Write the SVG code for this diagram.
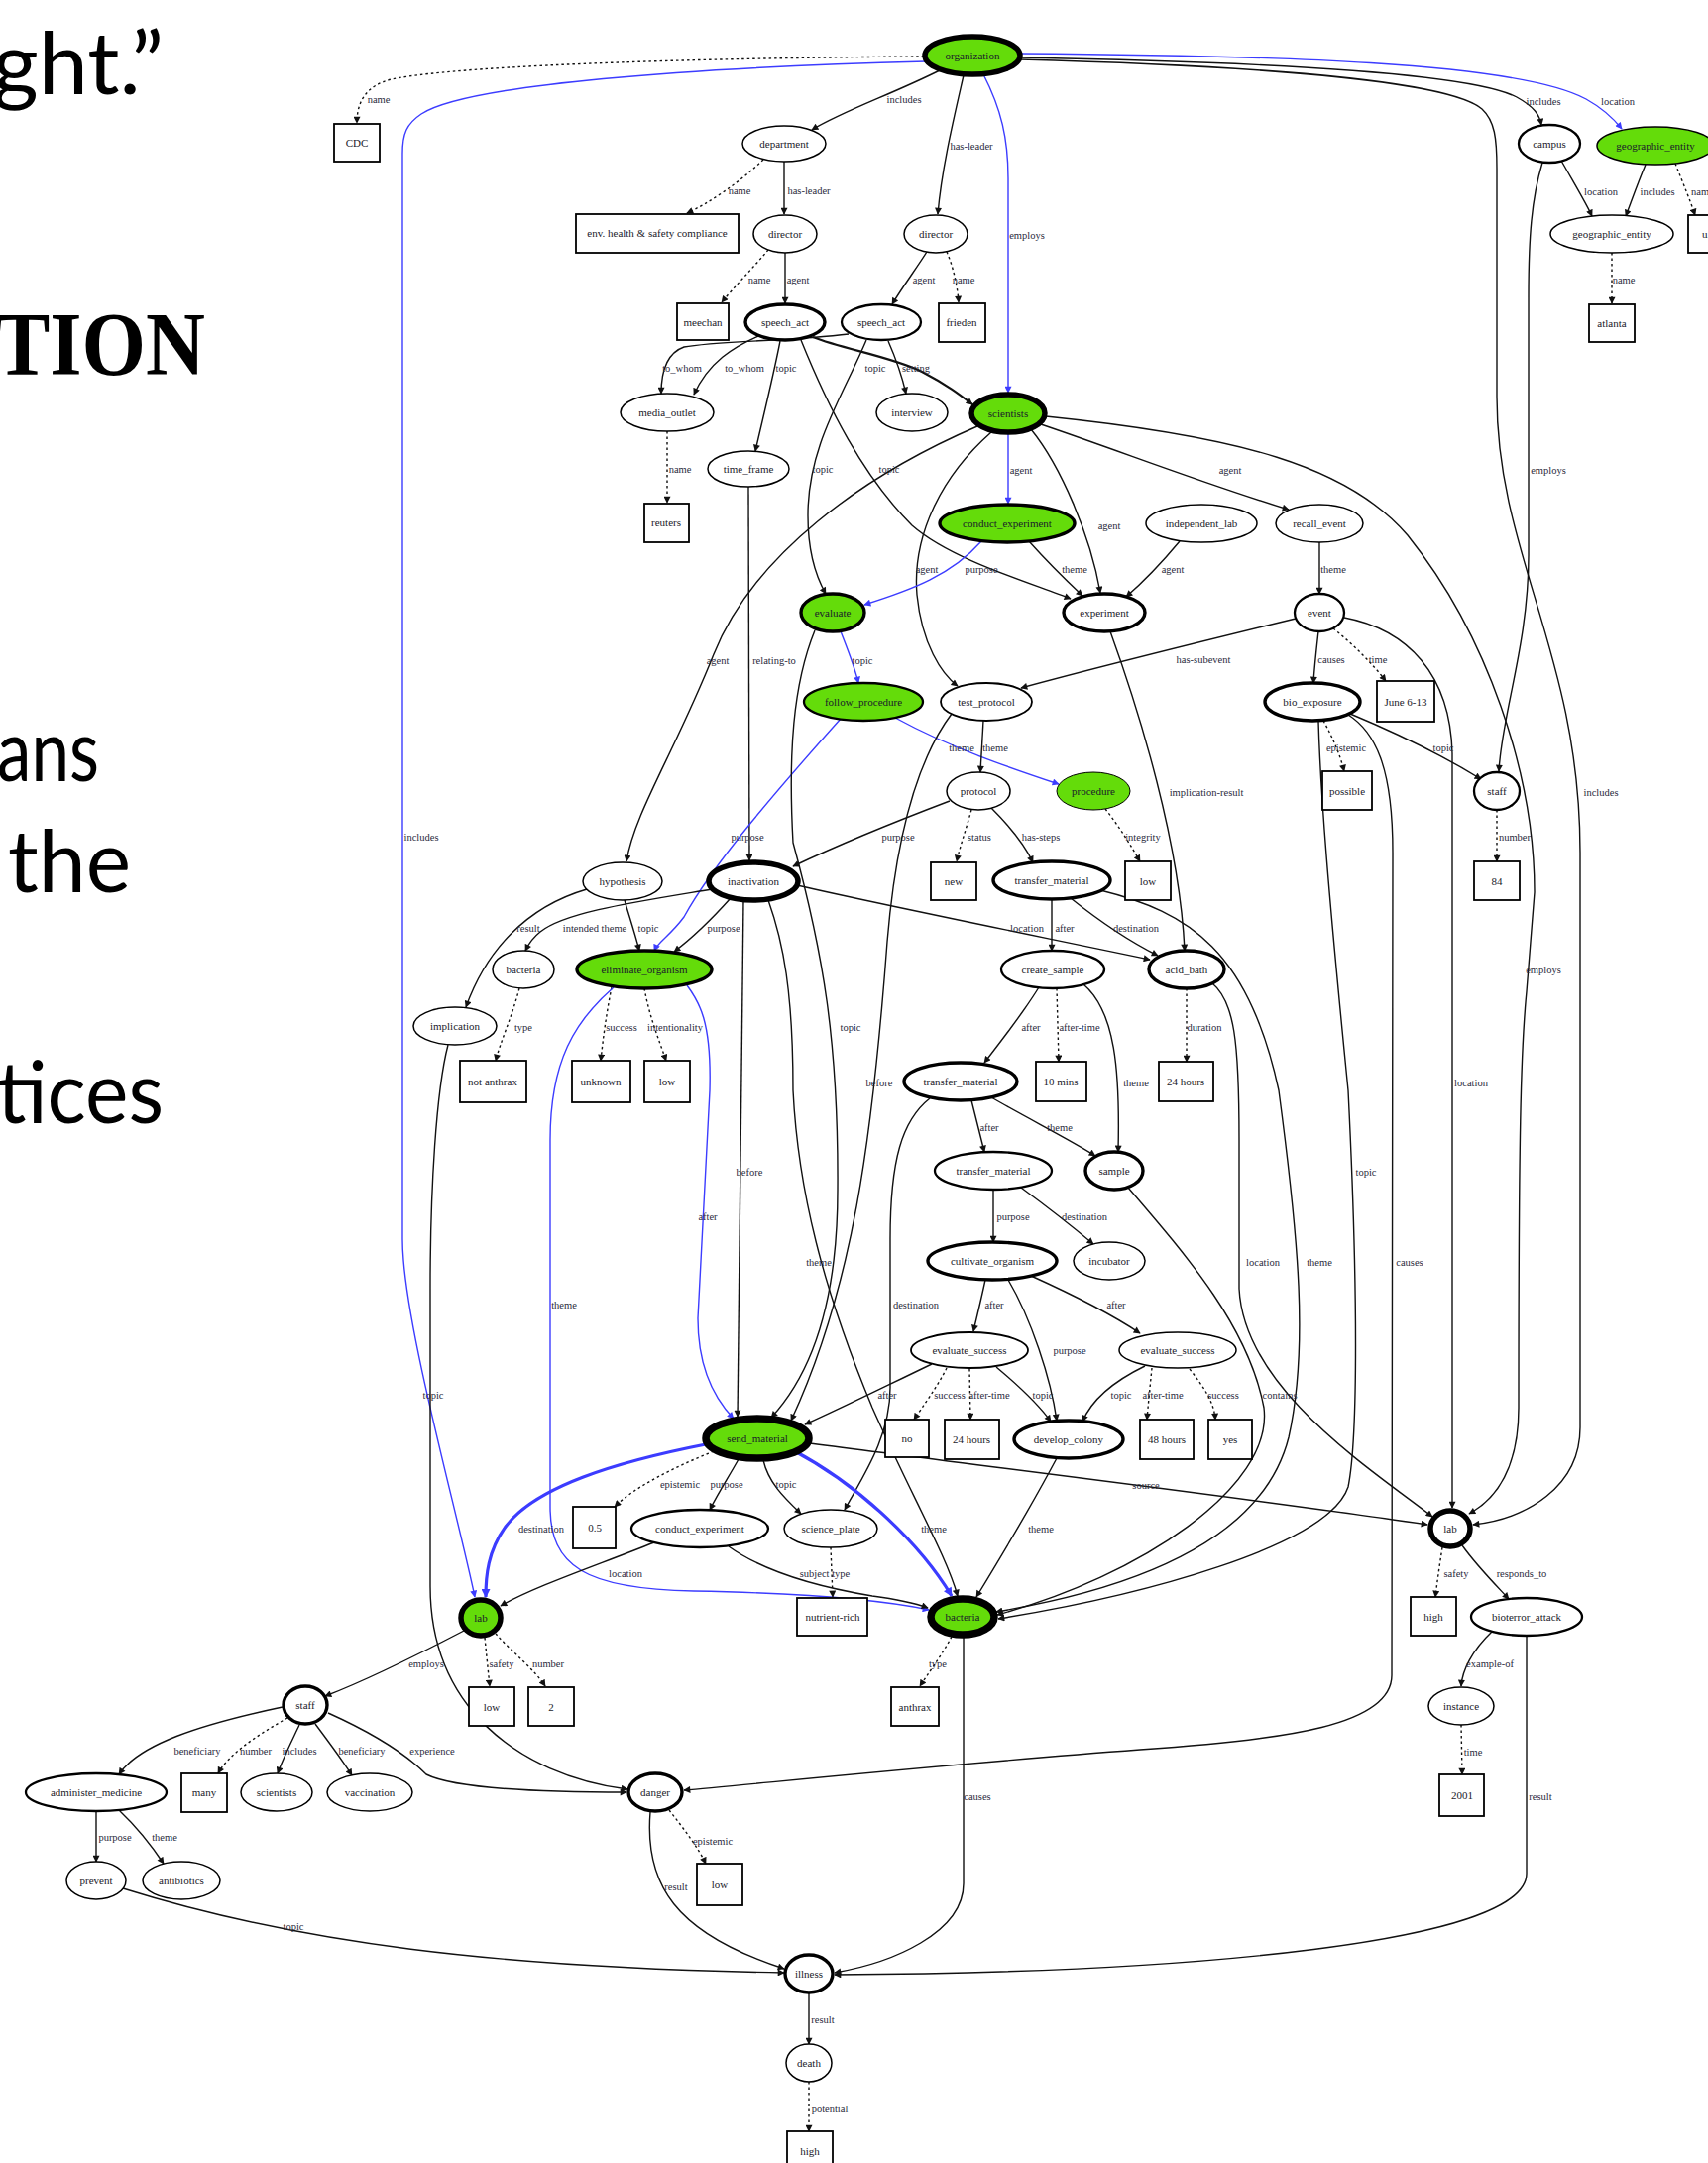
<svg xmlns="http://www.w3.org/2000/svg" width="1723" height="2182" viewBox="0 0 1723 2182">
<style>
.e{fill:none;stroke:#111;stroke-width:1.4}
.d{stroke-dasharray:2.5 3}
.bl{stroke:#3c3cff}
.bt{stroke-width:3.2}
.ea{marker-end:url(#ak)}
.eb{marker-end:url(#ab)}
.eB{marker-end:url(#abB)}
.lb{font-family:"Liberation Serif",serif;font-size:10.5px;fill:#2a2a3c;text-anchor:middle}
.nt{font-family:"Liberation Serif",serif;font-size:11px;fill:#1a1a2a;text-anchor:middle}
.nd{fill:#fff;stroke:#000;stroke-width:1.5}
.w2{stroke-width:2.3}
.w3{stroke-width:3.4}
.w5{stroke-width:5.5}
.w7{stroke-width:7.5}
.gr{fill:#64dc0a}
.bx{fill:#fff;stroke:#000;stroke-width:1.8}
.big{font-family:"Lato","Open Sans",sans-serif;font-size:88px;fill:#000}
.ttl{font-family:"Liberation Serif",serif;font-size:90px;font-weight:bold;fill:#000}
</style>
<defs>
<marker id="ak" viewBox="0 0 10 10" refX="9" refY="5" markerWidth="8" markerHeight="7" markerUnits="userSpaceOnUse" orient="auto"><path d="M0,0 L10,5 L0,10 z" fill="#111"/></marker>
<marker id="ab" viewBox="0 0 10 10" refX="9" refY="5" markerWidth="8" markerHeight="7" markerUnits="userSpaceOnUse" orient="auto"><path d="M0,0 L10,5 L0,10 z" fill="#3c3cff"/></marker>
<marker id="abB" viewBox="0 0 10 10" refX="9" refY="5" markerWidth="11" markerHeight="9" markerUnits="userSpaceOnUse" orient="auto"><path d="M0,0 L10,5 L0,10 z" fill="#3c3cff"/></marker>
</defs>
<rect width="1723" height="2182" fill="#fff"/>

<g id="slide-text">
<text class="big" x="-8" y="95" textLength="173" lengthAdjust="spacingAndGlyphs">ght.”</text>
<text class="ttl" x="-5" y="378" textLength="212" lengthAdjust="spacingAndGlyphs">TION</text>
<text class="big" x="-3" y="788" textLength="103" lengthAdjust="spacingAndGlyphs">ans</text>
<text class="big" x="8" y="900" textLength="124" lengthAdjust="spacingAndGlyphs">the</text>
<text class="big" x="-3" y="1133" textLength="168" lengthAdjust="spacingAndGlyphs">tices</text>
</g>

<g id="connectors">
<g><path class="e d ea" d="M932,57 C760,58 470,64 395,80 C370,86 360,102 360,124"/><text class="lb" x="382" y="104">name</text></g>
<g><path class="e bl eb" d="M934,62 C700,68 470,85 425,115 C410,125 406,135 406,155 L406,1250 C406,1330 460,1520 479,1611"/><text class="lb" x="425" y="848">includes</text></g>
<g><path class="e ea" d="M948,71 C900,95 850,112 819,131"/><text class="lb" x="912" y="104">includes</text></g>
<g><path class="e ea" d="M972,76 C962,120 950,170 946,216"/><text class="lb" x="980" y="151">has-leader</text></g>
<g><path class="e bl eb" d="M992,75 C1010,110 1017,140 1017,180 L1017,396"/><text class="lb" x="1036" y="241">employs</text></g>
<g><path class="e ea" d="M1029,58 C1250,62 1480,72 1530,98 C1548,108 1553,116 1555,126"/><text class="lb" x="1557" y="106">includes</text></g>
<g><path class="e bl eb" d="M1029,54 C1280,56 1530,62 1600,100 C1618,110 1628,120 1636,130"/><text class="lb" x="1632" y="106">location</text></g>
<g><path class="e ea" d="M1029,60 C1250,66 1460,80 1495,110 C1508,122 1510,140 1510,170 L1510,400 C1510,560 1594,660 1594,860 L1594,1440 C1594,1500 1540,1532 1486,1538"/><text class="lb" x="1615" y="803">includes</text></g>
<g><path class="e d ea" d="M770,161 C745,185 715,205 693,215"/><text class="lb" x="746" y="196">name</text></g>
<g><path class="e ea" d="M791,163 L791,216"/><text class="lb" x="816" y="196">has-leader</text></g>
<g><path class="e d ea" d="M775,252 C760,270 740,290 728,305"/><text class="lb" x="766" y="286">name</text></g>
<g><path class="e ea" d="M792,255 L792,306"/><text class="lb" x="805" y="286">agent</text></g>
<g><path class="e ea" d="M935,254 C925,270 910,290 900,307"/><text class="lb" x="932" y="286">agent</text></g>
<g><path class="e d ea" d="M955,254 C962,270 966,290 967,305"/><text class="lb" x="972" y="286">name</text></g>
<g><path class="e ea" d="M856,337 C800,344 720,344 690,350 C673,356 667,375 667,397"/><text class="lb" x="688" y="375">to_whom</text></g>
<g><path class="e ea" d="M765,339 C740,350 715,365 700,398"/><text class="lb" x="751" y="375">to_whom</text></g>
<g><path class="e ea" d="M787,344 C780,380 770,420 762,455"/><text class="lb" x="793" y="375">topic</text></g>
<g><path class="e ea" style="stroke-width:2.2" d="M820,340 C850,352 900,360 930,375 C955,388 968,398 981,408"/><text class="lb" x="883" y="375">topic</text></g>
<g><path class="e ea" d="M808,343 C835,410 870,480 920,530 C960,565 1040,588 1080,604"/><text class="lb" x="897" y="477">topic</text></g>
<g><path class="e ea" d="M874,343 C850,400 815,450 815,520 C815,560 825,585 833,599"/><text class="lb" x="830" y="477">topic</text></g>
<g><path class="e ea" d="M896,344 C903,360 910,380 914,397"/><text class="lb" x="924" y="375">setting</text></g>
<g><path class="e d ea" d="M673,435 L673,507"/><text class="lb" x="686" y="477">name</text></g>
<g><path class="e ea" d="M1575,162 C1588,185 1600,205 1606,218"/><text class="lb" x="1615" y="197">location</text></g>
<g><path class="e ea" d="M1660,166 C1652,185 1645,205 1640,218"/><text class="lb" x="1672" y="197">includes</text></g>
<g><path class="e d ea" d="M1690,165 C1698,185 1706,205 1710,217"/><text class="lb" x="1706" y="197" style="text-anchor:start">name</text></g>
<g><path class="e d ea" d="M1626,255 L1626,306"/><text class="lb" x="1638" y="286">name</text></g>
<g><path class="e ea" d="M1556,164 C1545,200 1542,240 1542,300 L1542,560 C1542,650 1515,720 1512,778"/><text class="lb" x="1562" y="478">employs</text></g>
<g><path class="e bl eb" d="M1017,437 L1017,508"/><text class="lb" x="1030" y="478">agent</text></g>
<g><path class="e ea" d="M1040,433 C1070,470 1100,540 1110,598"/><text class="lb" x="1119" y="534">agent</text></g>
<g><path class="e ea" d="M1050,428 C1130,455 1220,490 1300,514"/><text class="lb" x="1241" y="478">agent</text></g>
<g><path class="e ea" d="M1055,420 C1250,440 1360,470 1420,540 C1500,640 1548,780 1548,900 L1540,1000 C1534,1060 1532,1150 1532,1420 C1532,1480 1510,1512 1482,1527"/><text class="lb" x="1557" y="982">employs</text></g>
<g><path class="e ea" d="M986,430 C870,480 760,560 720,660 C680,760 640,820 632,869"/><text class="lb" x="724" y="670">agent</text></g>
<g><path class="e ea" d="M1000,436 C950,480 920,540 925,600 C930,650 950,680 966,692"/><text class="lb" x="935" y="578">agent</text></g>
<g><path class="e bl eb" d="M990,546 C960,580 920,595 872,610"/><text class="lb" x="990" y="578">purpose</text></g>
<g><path class="e ea" d="M1038,546 C1055,565 1075,585 1092,601"/><text class="lb" x="1084" y="578">theme</text></g>
<g><path class="e ea" d="M1190,546 C1170,570 1150,590 1136,602"/><text class="lb" x="1183" y="578">agent</text></g>
<g><path class="e ea" d="M1331,547 L1331,599"/><text class="lb" x="1345" y="578">theme</text></g>
<g><path class="e ea" d="M1307,624 C1200,650 1100,675 1030,694"/><text class="lb" x="1214" y="669">has-subevent</text></g>
<g><path class="e ea" d="M1330,637 C1328,655 1326,672 1325,689"/><text class="lb" x="1343" y="669">causes</text></g>
<g><path class="e d ea" d="M1345,634 C1365,650 1385,670 1398,687"/><text class="lb" x="1390" y="669">time</text></g>
<g><path class="e ea" d="M1356,623 C1420,635 1463,680 1465,760 L1465,1521"/><text class="lb" x="1484" y="1096">location</text></g>
<g><path class="e bl eb" d="M848,637 C855,655 862,672 866,689"/><text class="lb" x="870" y="670">topic</text></g>
<g><path class="e ea" d="M755,491 L756,868"/><text class="lb" x="781" y="670">relating-to</text></g>
<g><path class="e bl eb" d="M903,724 C960,755 1020,775 1068,791"/><text class="lb" x="1004" y="758">theme</text></g>
<g><path class="e ea" d="M992,727 L989,779"/><text class="lb" x="970" y="758">theme</text></g>
<g><path class="e bl eb" d="M848,725 C790,790 720,870 690,925 C675,945 664,950 660,959"/><text class="lb" x="754" y="848">purpose</text></g>
<g><path class="e d ea" d="M1335,727 C1345,745 1352,762 1356,778"/><text class="lb" x="1358" y="758">epistemic</text></g>
<g><path class="e ea" d="M1362,720 C1410,740 1460,765 1494,786"/><text class="lb" x="1456" y="758">topic</text></g>
<g><path class="e ea" d="M1120,637 C1150,720 1190,850 1195,959"/><text class="lb" x="1217" y="803">implication-result</text></g>
<g><path class="e d ea" d="M1510,817 L1510,869"/><text class="lb" x="1528" y="848">number</text></g>
<g><path class="e d ea" d="M980,817 C975,835 968,855 965,869"/><text class="lb" x="988" y="848">status</text></g>
<g><path class="e ea" d="M1000,815 C1020,835 1035,855 1042,870"/><text class="lb" x="1050" y="848">has-steps</text></g>
<g><path class="e d ea" d="M1115,816 C1130,835 1142,855 1150,869"/><text class="lb" x="1153" y="848">integrity</text></g>
<g><path class="e ea" d="M958,808 C900,830 840,855 800,874"/><text class="lb" x="906" y="848">purpose</text></g>
<g><path class="e ea" d="M592,897 C530,915 490,960 470,1016"/><text class="lb" x="533" y="940">result</text></g>
<g><path class="e ea" d="M718,897 C640,910 570,920 545,940 C535,948 532,955 530,959"/><text class="lb" x="600" y="940">intended theme</text></g>
<g><path class="e ea" d="M630,908 C635,925 640,940 645,959"/><text class="lb" x="654" y="940">topic</text></g>
<g><path class="e ea" d="M737,906 C720,925 700,945 680,960"/><text class="lb" x="730" y="940">purpose</text></g>
<g><path class="e ea" d="M804,893 C900,915 1050,945 1160,968"/><text class="lb" x="1036" y="940">location</text></g>
<g><path class="e ea" d="M1061,907 L1061,959"/><text class="lb" x="1074" y="940">after</text></g>
<g><path class="e ea" d="M1080,906 C1110,930 1140,950 1168,964"/><text class="lb" x="1146" y="940">destination</text></g>
<g><path class="e ea" d="M1110,898 C1200,920 1260,960 1290,1100 C1310,1250 1320,1360 1300,1450 C1270,1570 1100,1610 1005,1626"/><text class="lb" x="1331" y="1277">theme</text></g>
<g><path class="e d ea" d="M524,997 C515,1030 505,1050 500,1070"/><text class="lb" x="528" y="1040">type</text></g>
<g><path class="e d ea" d="M617,996 C612,1020 608,1050 606,1070"/><text class="lb" x="627" y="1040">success</text></g>
<g><path class="e d ea" d="M650,997 C655,1025 665,1050 672,1070"/><text class="lb" x="681" y="1040">intentionality</text></g>
<g><path class="e bl eb" d="M693,994 C705,1010 718,1030 716,1100 L704,1330 C704,1380 720,1410 740,1431"/><text class="lb" x="714" y="1231">after</text></g>
<g><path class="e bl eb" d="M619,996 C580,1030 555,1070 555,1150 L555,1520 C555,1580 590,1603 700,1605 C800,1607 880,1612 937,1624"/><text class="lb" x="569" y="1320">theme</text></g>
<g><path class="e ea" d="M1048,996 C1030,1025 1010,1050 993,1072"/><text class="lb" x="1040" y="1040">after</text></g>
<g><path class="e d ea" d="M1066,997 L1068,1071"/><text class="lb" x="1089" y="1040">after-time</text></g>
<g><path class="e ea" d="M1093,993 C1125,1020 1130,1080 1128,1162"/><text class="lb" x="1146" y="1096">theme</text></g>
<g><path class="e d ea" d="M1197,997 L1197,1071"/><text class="lb" x="1215" y="1040">duration</text></g>
<g><path class="e ea" d="M1223,992 C1245,1010 1250,1050 1250,1150 L1250,1300 C1255,1400 1380,1480 1445,1530"/><text class="lb" x="1274" y="1277">location</text></g>
<g><path class="e ea" d="M750,909 C748,1000 745,1200 744,1429"/><text class="lb" x="756" y="1186">before</text></g>
<g><path class="e ea" d="M980,1110 C985,1130 990,1150 993,1162"/><text class="lb" x="998" y="1141">after</text></g>
<g><path class="e ea" d="M1000,1107 C1040,1130 1080,1150 1105,1166"/><text class="lb" x="1069" y="1141">theme</text></g>
<g><path class="e ea" d="M938,1108 C910,1130 898,1170 898,1250 L898,1400 C898,1450 870,1490 852,1523"/><text class="lb" x="924" y="1320">destination</text></g>
<g><path class="e ea" d="M960,720 C930,760 905,830 895,950 C880,1150 860,1300 798,1433"/><text class="lb" x="887" y="1096">before</text></g>
<g><path class="e ea" d="M822,636 C800,690 795,760 800,850 C830,960 846,1050 845,1200 C845,1320 815,1390 778,1430"/><text class="lb" x="858" y="1040">topic</text></g>
<g><path class="e ea" d="M1002,1200 L1002,1253"/><text class="lb" x="1022" y="1231">purpose</text></g>
<g><path class="e ea" d="M1030,1198 C1060,1220 1085,1240 1103,1255"/><text class="lb" x="1094" y="1231">destination</text></g>
<g><path class="e ea" d="M1138,1198 C1200,1270 1260,1340 1275,1420 C1285,1500 1150,1590 1006,1629"/><text class="lb" x="1291" y="1411">contains</text></g>
<g><path class="e ea" d="M775,908 C790,950 800,1000 800,1100 C805,1200 830,1300 880,1420 C920,1510 955,1570 966,1610"/><text class="lb" x="826" y="1277">theme</text></g>
<g><path class="e ea" d="M994,1291 C990,1310 985,1330 982,1343"/><text class="lb" x="1003" y="1320">after</text></g>
<g><path class="e ea" d="M1040,1287 C1080,1305 1120,1325 1150,1345"/><text class="lb" x="1126" y="1320">after</text></g>
<g><path class="e ea" d="M1017,1291 C1040,1330 1060,1390 1066,1433"/><text class="lb" x="1079" y="1366">purpose</text></g>
<g><path class="e ea" d="M940,1376 C890,1400 850,1420 812,1437"/><text class="lb" x="895" y="1411">after</text></g>
<g><path class="e d ea" d="M955,1380 C945,1400 930,1420 922,1432"/><text class="lb" x="958" y="1411">success</text></g>
<g><path class="e d ea" d="M978,1381 L979,1432"/><text class="lb" x="998" y="1411">after-time</text></g>
<g><path class="e ea" d="M1005,1379 C1030,1400 1050,1420 1060,1434"/><text class="lb" x="1052" y="1411">topic</text></g>
<g><path class="e ea" d="M1155,1378 C1120,1395 1100,1415 1092,1434"/><text class="lb" x="1131" y="1411">topic</text></g>
<g><path class="e d ea" d="M1162,1380 C1160,1400 1158,1420 1157,1432"/><text class="lb" x="1173" y="1411">after-time</text></g>
<g><path class="e d ea" d="M1200,1381 C1215,1400 1225,1415 1226,1432"/><text class="lb" x="1234" y="1411">success</text></g>
<g><path class="e ea" d="M1066,1471 C1040,1520 1010,1570 985,1611"/><text class="lb" x="1050" y="1546">theme</text></g>
<g><path class="e ea" d="M1330,727 C1332,800 1340,900 1360,1100 C1370,1300 1370,1450 1360,1500 C1340,1560 1150,1610 1007,1633"/><text class="lb" x="1378" y="1186">topic</text></g>
<g><path class="e ea" d="M1360,721 C1390,740 1405,780 1405,860 L1404,1690 C1404,1740 1300,1755 1150,1765 C950,1780 760,1800 690,1806"/><text class="lb" x="1422" y="1277">causes</text></g>
<g><path class="e ea" d="M817,1456 C1000,1480 1250,1510 1440,1538"/><text class="lb" x="1156" y="1502">source</text></g>
<g><path class="e d ea" d="M720,1464 C680,1480 640,1500 620,1520"/><text class="lb" x="686" y="1501">epistemic</text></g>
<g><path class="e ea" d="M745,1472 C735,1490 725,1505 716,1523"/><text class="lb" x="733" y="1501">purpose</text></g>
<g><path class="e ea" d="M770,1473 C775,1495 790,1510 808,1527"/><text class="lb" x="793" y="1501">topic</text></g>
<g><path class="e bl bt eB" d="M712,1457 C620,1475 540,1500 510,1540 C492,1565 490,1590 490,1611"/><text class="lb" x="546" y="1546">destination</text></g>
<g><path class="e bl bt eB" d="M800,1463 C870,1500 930,1560 960,1610"/><text class="lb" x="942" y="1546">theme</text></g>
<g><path class="e ea" d="M660,1556 C600,1580 540,1600 505,1620"/><text class="lb" x="631" y="1591">location</text></g>
<g><path class="e ea" d="M735,1560 C770,1585 820,1600 880,1610 C910,1614 925,1618 936,1622"/></g>
<g><path class="e d ea" d="M838,1561 L840,1611"/><text class="lb" x="832" y="1591">subject type</text></g>
<g><path class="e ea" d="M468,1645 C420,1670 370,1695 328,1711"/><text class="lb" x="430" y="1682">employs</text></g>
<g><path class="e d ea" d="M489,1652 L494,1701"/><text class="lb" x="506" y="1682">safety</text></g>
<g><path class="e d ea" d="M500,1648 C515,1665 540,1685 550,1701"/><text class="lb" x="553" y="1682">number</text></g>
<g><path class="e d ea" d="M960,1651 C950,1670 935,1690 928,1701"/><text class="lb" x="946" y="1682">type</text></g>
<g><path class="e ea" d="M972,1651 L972,1900 C972,1950 900,1980 842,1990"/><text class="lb" x="986" y="1816">causes</text></g>
<g><path class="e d ea" d="M1455,1561 C1452,1580 1450,1595 1448,1611"/><text class="lb" x="1469" y="1591">safety</text></g>
<g><path class="e ea" d="M1475,1559 C1490,1580 1510,1600 1522,1613"/><text class="lb" x="1535" y="1591">responds_to</text></g>
<g><path class="e ea" d="M1505,1646 C1485,1665 1475,1685 1474,1701"/><text class="lb" x="1503" y="1682">example-of</text></g>
<g><path class="e ea" d="M1540,1650 L1540,1890 C1540,1960 1200,1990 842,1992"/><text class="lb" x="1554" y="1816">result</text></g>
<g><path class="e d ea" d="M1474,1740 L1475,1790"/><text class="lb" x="1486" y="1771">time</text></g>
<g><path class="e ea" d="M452,1054 C440,1100 434,1200 434,1300 L434,1600 C434,1720 520,1790 633,1805"/><text class="lb" x="437" y="1411">topic</text></g>
<g><path class="e ea" d="M285,1722 C200,1740 140,1760 120,1790"/><text class="lb" x="199" y="1770">beneficiary</text></g>
<g><path class="e d ea" d="M290,1733 C260,1750 230,1770 220,1789"/><text class="lb" x="258" y="1770">number</text></g>
<g><path class="e ea" d="M302,1740 C295,1755 285,1775 280,1789"/><text class="lb" x="302" y="1770">includes</text></g>
<g><path class="e ea" d="M318,1739 C330,1755 345,1775 355,1791"/><text class="lb" x="365" y="1770">beneficiary</text></g>
<g><path class="e ea" d="M331,1728 C380,1750 410,1770 430,1790 C460,1805 560,1808 632,1808"/><text class="lb" x="436" y="1770">experience</text></g>
<g><path class="e ea" d="M97,1827 L97,1878"/><text class="lb" x="116" y="1857">purpose</text></g>
<g><path class="e ea" d="M120,1826 C140,1845 155,1865 165,1880"/><text class="lb" x="166" y="1857">theme</text></g>
<g><path class="e ea" d="M124,1905 C300,1960 500,1985 791,1990"/><text class="lb" x="296" y="1947">topic</text></g>
<g><path class="e d ea" d="M675,1826 C690,1845 705,1865 712,1880"/><text class="lb" x="719" y="1861">epistemic</text></g>
<g><path class="e ea" d="M656,1828 C650,1900 680,1950 791,1986"/><text class="lb" x="682" y="1907">result</text></g>
<g><path class="e ea" d="M816,2011 L816,2062"/><text class="lb" x="830" y="2041">result</text></g>
<g><path class="e d ea" d="M816,2100 L816,2150"/><text class="lb" x="837" y="2131">potential</text></g>
</g>

<g id="nodes">
<g id="n-organization"><ellipse class="nd gr w5" cx="981" cy="56" rx="48" ry="19"/><text class="nt" x="981" y="60">organization</text></g>
<g id="n-cdc"><rect class="bx" x="337" y="125" width="46" height="38"/><text class="nt" x="360" y="148">CDC</text></g>
<g id="n-department"><ellipse class="nd" cx="791" cy="145" rx="42" ry="18"/><text class="nt" x="791" y="149">department</text></g>
<g id="n-env"><rect class="bx" x="581" y="216" width="164" height="39"/><text class="nt" x="663" y="239">env. health &amp; safety compliance</text></g>
<g id="n-director1"><ellipse class="nd" cx="792" cy="236" rx="32" ry="19"/><text class="nt" x="792" y="240">director</text></g>
<g id="n-director2"><ellipse class="nd" cx="944" cy="236" rx="32" ry="19"/><text class="nt" x="944" y="240">director</text></g>
<g id="n-meechan"><rect class="bx" x="683" y="306" width="52" height="37"/><text class="nt" x="709" y="329">meechan</text></g>
<g id="n-speech1"><ellipse class="nd w3" cx="792" cy="325" rx="40" ry="18"/><text class="nt" x="792" y="329">speech_act</text></g>
<g id="n-speech2"><ellipse class="nd w2" cx="889" cy="325" rx="40" ry="18"/><text class="nt" x="889" y="329">speech_act</text></g>
<g id="n-frieden"><rect class="bx" x="947" y="306" width="47" height="39"/><text class="nt" x="970" y="329">frieden</text></g>
<g id="n-media"><ellipse class="nd" cx="673" cy="416" rx="47" ry="19"/><text class="nt" x="673" y="420">media_outlet</text></g>
<g id="n-interview"><ellipse class="nd" cx="920" cy="416" rx="36" ry="19"/><text class="nt" x="920" y="420">interview</text></g>
<g id="n-scientists"><ellipse class="nd gr w5" cx="1017" cy="417" rx="37" ry="19"/><text class="nt" x="1017" y="421">scientists</text></g>
<g id="n-campus"><ellipse class="nd w2" cx="1563" cy="145" rx="31" ry="19"/><text class="nt" x="1563" y="149">campus</text></g>
<g id="n-geo1"><ellipse class="nd gr" cx="1670" cy="147" rx="59" ry="19"/><text class="nt" x="1670" y="151">geographic_entity</text></g>
<g id="n-geo2"><ellipse class="nd" cx="1626" cy="236" rx="62" ry="19"/><text class="nt" x="1626" y="240">geographic_entity</text></g>
<g id="n-atlanta"><rect class="bx" x="1603" y="307" width="46" height="38"/><text class="nt" x="1626" y="330">atlanta</text></g>
<g id="n-cutbox"><rect class="bx" x="1703" y="217" width="50" height="38"/><text class="nt" x="1717" y="240" style="text-anchor:start">u.s.</text></g>
<g id="n-timeframe"><ellipse class="nd" cx="755" cy="473" rx="41" ry="18"/><text class="nt" x="755" y="477">time_frame</text></g>
<g id="n-reuters"><rect class="bx" x="650" y="508" width="45" height="39"/><text class="nt" x="672" y="531">reuters</text></g>
<g id="n-conduct1"><ellipse class="nd gr w3" cx="1016" cy="528" rx="68" ry="19"/><text class="nt" x="1016" y="532">conduct_experiment</text></g>
<g id="n-indlab"><ellipse class="nd" cx="1212" cy="528" rx="56" ry="19"/><text class="nt" x="1212" y="532">independent_lab</text></g>
<g id="n-recall"><ellipse class="nd" cx="1331" cy="528" rx="44" ry="19"/><text class="nt" x="1331" y="532">recall_event</text></g>
<g id="n-evaluate"><ellipse class="nd gr w3" cx="840" cy="618" rx="32" ry="19"/><text class="nt" x="840" y="622">evaluate</text></g>
<g id="n-experiment"><ellipse class="nd w3" cx="1114" cy="618" rx="41" ry="19"/><text class="nt" x="1114" y="622">experiment</text></g>
<g id="n-event"><ellipse class="nd w2" cx="1331" cy="618" rx="25" ry="19"/><text class="nt" x="1331" y="622">event</text></g>
<g id="n-follow"><ellipse class="nd gr w2" cx="871" cy="708" rx="60" ry="19"/><text class="nt" x="871" y="712">follow_procedure</text></g>
<g id="n-testprot"><ellipse class="nd" style="stroke-width:1.8" cx="995" cy="708" rx="46" ry="19"/><text class="nt" x="995" y="712">test_protocol</text></g>
<g id="n-bioexp"><ellipse class="nd w3" cx="1324" cy="708" rx="48" ry="19"/><text class="nt" x="1324" y="712">bio_exposure</text></g>
<g id="n-june"><rect class="bx" x="1389" y="687" width="58" height="41"/><text class="nt" x="1418" y="712">June 6-13</text></g>
<g id="n-protocol"><ellipse class="nd" cx="987" cy="798" rx="32" ry="19"/><text class="nt" x="987" y="802">protocol</text></g>
<g id="n-procedure"><ellipse class="nd gr" style="stroke-width:1" cx="1103" cy="798" rx="37" ry="19"/><text class="nt" x="1103" y="802">procedure</text></g>
<g id="n-possible"><rect class="bx" x="1334" y="778" width="50" height="39"/><text class="nt" x="1359" y="802">possible</text></g>
<g id="n-staff1"><ellipse class="nd w2" cx="1510" cy="798" rx="23" ry="19"/><text class="nt" x="1510" y="802">staff</text></g>
<g id="n-hypothesis"><ellipse class="nd" cx="628" cy="889" rx="40" ry="19"/><text class="nt" x="628" y="893">hypothesis</text></g>
<g id="n-inactivation"><ellipse class="nd w5" cx="760" cy="889" rx="45" ry="19"/><text class="nt" x="760" y="893">inactivation</text></g>
<g id="n-new"><rect class="bx" x="939" y="870" width="46" height="38"/><text class="nt" x="962" y="893">new</text></g>
<g id="n-transfer1"><ellipse class="nd w3" cx="1061" cy="888" rx="59" ry="19"/><text class="nt" x="1061" y="892">transfer_material</text></g>
<g id="n-low1"><rect class="bx" x="1135" y="869" width="46" height="39"/><text class="nt" x="1158" y="893">low</text></g>
<g id="n-84"><rect class="bx" x="1487" y="869" width="46" height="39"/><text class="nt" x="1510" y="893">84</text></g>
<g id="n-bacteria1"><ellipse class="nd" cx="528" cy="978" rx="31" ry="19"/><text class="nt" x="528" y="982">bacteria</text></g>
<g id="n-eliminate"><ellipse class="nd gr w3" cx="650" cy="978" rx="68" ry="19"/><text class="nt" x="650" y="982">eliminate_organism</text></g>
<g id="n-create"><ellipse class="nd w2" cx="1062" cy="978" rx="52" ry="19"/><text class="nt" x="1062" y="982">create_sample</text></g>
<g id="n-acid"><ellipse class="nd w3" cx="1197" cy="978" rx="38" ry="19"/><text class="nt" x="1197" y="982">acid_bath</text></g>
<g id="n-implication"><ellipse class="nd" cx="459" cy="1035" rx="42" ry="19"/><text class="nt" x="459" y="1039">implication</text></g>
<g id="n-notanthrax"><rect class="bx" x="464" y="1070" width="67" height="42"/><text class="nt" x="497" y="1095">not anthrax</text></g>
<g id="n-unknown"><rect class="bx" x="577" y="1070" width="59" height="42"/><text class="nt" x="606" y="1095">unknown</text></g>
<g id="n-low2"><rect class="bx" x="650" y="1070" width="46" height="42"/><text class="nt" x="673" y="1095">low</text></g>
<g id="n-transfer2"><ellipse class="nd w3" cx="969" cy="1091" rx="57" ry="19"/><text class="nt" x="969" y="1095">transfer_material</text></g>
<g id="n-10mins"><rect class="bx" x="1045" y="1071" width="51" height="40"/><text class="nt" x="1070" y="1095">10 mins</text></g>
<g id="n-24h1"><rect class="bx" x="1169" y="1071" width="55" height="40"/><text class="nt" x="1196" y="1095">24 hours</text></g>
<g id="n-transfer3"><ellipse class="nd w2" cx="1002" cy="1181" rx="59" ry="19"/><text class="nt" x="1002" y="1185">transfer_material</text></g>
<g id="n-sample"><ellipse class="nd w3" cx="1124" cy="1181" rx="29" ry="19"/><text class="nt" x="1124" y="1185">sample</text></g>
<g id="n-cultivate"><ellipse class="nd w3" cx="1001" cy="1272" rx="65" ry="19"/><text class="nt" x="1001" y="1276">cultivate_organism</text></g>
<g id="n-incubator"><ellipse class="nd" cx="1119" cy="1272" rx="36" ry="19"/><text class="nt" x="1119" y="1276">incubator</text></g>
<g id="n-evals1"><ellipse class="nd" style="stroke-width:1.8" cx="978" cy="1362" rx="59" ry="18"/><text class="nt" x="978" y="1366">evaluate_success</text></g>
<g id="n-evals2"><ellipse class="nd" cx="1188" cy="1362" rx="59" ry="18"/><text class="nt" x="1188" y="1366">evaluate_success</text></g>
<g id="n-send"><ellipse class="nd gr w7" cx="764" cy="1451" rx="52" ry="20"/><text class="nt" x="764" y="1455">send_material</text></g>
<g id="n-no"><rect class="bx" x="893" y="1432" width="44" height="38"/><text class="nt" x="915" y="1455">no</text></g>
<g id="n-24h2"><rect class="bx" x="953" y="1432" width="55" height="40"/><text class="nt" x="980" y="1456">24 hours</text></g>
<g id="n-develop"><ellipse class="nd w3" cx="1078" cy="1452" rx="55" ry="19"/><text class="nt" x="1078" y="1456">develop_colony</text></g>
<g id="n-48h"><rect class="bx" x="1150" y="1432" width="54" height="40"/><text class="nt" x="1177" y="1456">48 hours</text></g>
<g id="n-yes"><rect class="bx" x="1219" y="1432" width="44" height="40"/><text class="nt" x="1241" y="1456">yes</text></g>
<g id="n-05"><rect class="bx" x="578" y="1520" width="43" height="42"/><text class="nt" x="600" y="1545">0.5</text></g>
<g id="n-conduct2"><ellipse class="nd w2" cx="706" cy="1542" rx="69" ry="19"/><text class="nt" x="706" y="1546">conduct_experiment</text></g>
<g id="n-plate"><ellipse class="nd" cx="838" cy="1542" rx="47" ry="19"/><text class="nt" x="838" y="1546">science_plate</text></g>
<g id="n-lab1"><ellipse class="nd w5" cx="1463" cy="1542" rx="20" ry="18"/><text class="nt" x="1463" y="1546">lab</text></g>
<g id="n-lab2"><ellipse class="nd gr w5" cx="485" cy="1632" rx="20" ry="18"/><text class="nt" x="485" y="1636">lab</text></g>
<g id="n-nutrient"><rect class="bx" x="804" y="1612" width="71" height="38"/><text class="nt" x="840" y="1635">nutrient-rich</text></g>
<g id="n-bacteria2"><ellipse class="nd gr w7" cx="971" cy="1631" rx="32" ry="18"/><text class="nt" x="971" y="1635">bacteria</text></g>
<g id="n-high1"><rect class="bx" x="1423" y="1611" width="46" height="39"/><text class="nt" x="1446" y="1635">high</text></g>
<g id="n-bioterror"><ellipse class="nd w2" cx="1540" cy="1631" rx="56" ry="19"/><text class="nt" x="1540" y="1635">bioterror_attack</text></g>
<g id="n-low3"><rect class="bx" x="473" y="1702" width="46" height="39"/><text class="nt" x="496" y="1726">low</text></g>
<g id="n-2"><rect class="bx" x="533" y="1702" width="46" height="39"/><text class="nt" x="556" y="1726">2</text></g>
<g id="n-anthrax"><rect class="bx" x="899" y="1702" width="48" height="39"/><text class="nt" x="923" y="1726">anthrax</text></g>
<g id="n-instance"><ellipse class="nd" cx="1474" cy="1721" rx="33" ry="19"/><text class="nt" x="1474" y="1725">instance</text></g>
<g id="n-staff2"><ellipse class="nd w3" cx="308" cy="1720" rx="22" ry="19"/><text class="nt" x="308" y="1724">staff</text></g>
<g id="n-administer"><ellipse class="nd w2" cx="97" cy="1808" rx="71" ry="19"/><text class="nt" x="97" y="1812">administer_medicine</text></g>
<g id="n-many"><rect class="bx" x="183" y="1789" width="46" height="39"/><text class="nt" x="206" y="1812">many</text></g>
<g id="n-scientists2"><ellipse class="nd" cx="279" cy="1808" rx="36" ry="19"/><text class="nt" x="279" y="1812">scientists</text></g>
<g id="n-vaccination"><ellipse class="nd" cx="373" cy="1808" rx="43" ry="19"/><text class="nt" x="373" y="1812">vaccination</text></g>
<g id="n-danger"><ellipse class="nd w3" cx="661" cy="1808" rx="27" ry="19"/><text class="nt" x="661" y="1812">danger</text></g>
<g id="n-2001"><rect class="bx" x="1452" y="1790" width="45" height="42"/><text class="nt" x="1475" y="1815">2001</text></g>
<g id="n-prevent"><ellipse class="nd" cx="97" cy="1897" rx="30" ry="19"/><text class="nt" x="97" y="1901">prevent</text></g>
<g id="n-antibiotics"><ellipse class="nd" cx="183" cy="1897" rx="39" ry="19"/><text class="nt" x="183" y="1901">antibiotics</text></g>
<g id="n-low4"><rect class="bx" x="703" y="1880" width="46" height="42"/><text class="nt" x="726" y="1905">low</text></g>
<g id="n-illness"><ellipse class="nd w3" cx="816" cy="1991" rx="24" ry="19"/><text class="nt" x="816" y="1995">illness</text></g>
<g id="n-death"><ellipse class="nd" cx="816" cy="2081" rx="23" ry="19"/><text class="nt" x="816" y="2085">death</text></g>
<g id="n-high2"><rect class="bx" x="794" y="2150" width="46" height="40"/><text class="nt" x="817" y="2174">high</text></g>
</g>
</svg>
